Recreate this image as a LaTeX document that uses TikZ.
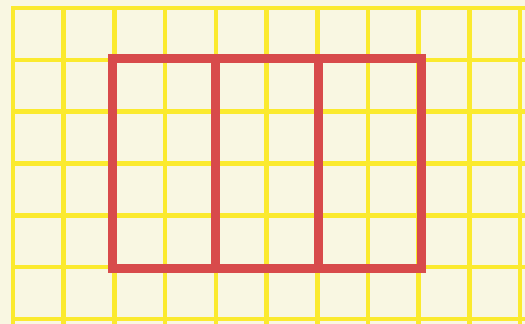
\documentclass[tikz,border=0pt]{standalone}
\definecolor{paper}{HTML}{F9F7E2}
\definecolor{gridyellow}{HTML}{FBEA2E}
\definecolor{boxred}{HTML}{D84B4B}
\tikzset{
  gridline/.style={draw=gridyellow, line width=4.6pt},
  redline/.style={draw=boxred, line width=9pt, line cap=rect, line join=miter}
}
\begin{document}
\begin{tikzpicture}[x=1pt,y=-1pt]
\fill[paper] (0,0) rectangle (525,324);
\useasboundingbox (0,0) rectangle (525,324);
\foreach \i in {0,...,10} {
  \draw[gridline] ({13+50.7*\i},6) -- ({13+50.7*\i},324);
}
\foreach \j in {0,...,6} {
  \draw[gridline] (11,{8+51.8*\j}) -- (525,{8+51.8*\j});
}
\coordinate (tl) at (112,58);
\coordinate (tr) at (421,58);
\coordinate (bl) at (112,268);
\coordinate (br) at (421,268);
\coordinate (d1t) at (215,58);
\coordinate (d1b) at (215,268);
\coordinate (d2t) at (318,58);
\coordinate (d2b) at (318,268);
\draw[redline] (tl) -- (tr) -- (br) -- (bl) -- cycle;
\draw[redline] (d1t) -- (d1b);
\draw[redline] (d2t) -- (d2b);
\end{tikzpicture}
\end{document}
